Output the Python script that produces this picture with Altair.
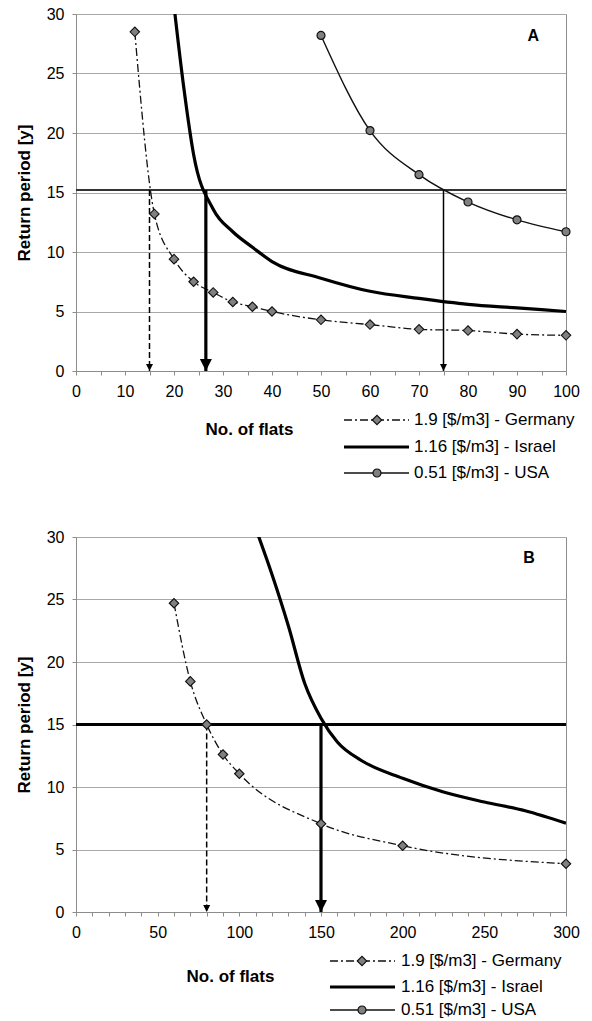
import altair as alt
import pandas as pd

# ---------------- data ----------------
# Panel A
germany_a_x = [12, 16, 20, 24, 28, 32, 36, 40, 50, 60, 70, 80, 90, 100]
germany_a_y = [28.5, 13.2, 9.4, 7.5, 6.6, 5.8, 5.4, 5.0, 4.3, 3.9, 3.5, 3.4, 3.1, 3.0]
israel_a_x = [20, 22, 24, 28, 32, 36, 40, 50, 60, 70, 80, 90, 100]
israel_a_y = [30.7, 23.8, 18.2, 13.6, 11.7, 10.4, 9.2, 7.8, 6.7, 6.1, 5.6, 5.3, 5.0]
usa_a_x = [50, 60, 70, 80, 90, 100]
usa_a_y = [28.2, 20.2, 16.5, 14.2, 12.7, 11.7]
threshold_a = [15.2]
arrows_a_x = [15, 26.5, 75]          # dashed, thick, thin
x_ticks_a = [0, 5, 10, 15, 20, 25, 30, 35, 40, 45, 50, 55, 60, 65, 70, 75, 80, 85, 90, 95, 100]

# Panel B
germany_b_x = [60, 70, 80, 90, 100, 150, 200, 300]
germany_b_y = [24.7, 18.45, 15.0, 12.6, 11.06, 7.06, 5.3, 3.86]
israel_b_x = [110, 120, 130, 140, 150, 160, 175, 200, 225, 250, 275, 300]
israel_b_y = [30.7, 27.0, 22.9, 18.3, 15.5, 13.6, 12.1, 10.7, 9.6, 8.8, 8.1, 7.1]
threshold_b = [15]
arrows_b_x = [80, 150]               # dashed, thick
x_ticks_b = [0, 10, 20, 30, 40, 50, 60, 70, 80, 90, 100, 110, 120, 130, 140, 150,
             160, 170, 180, 190, 200, 210, 220, 230, 240, 250, 260, 270, 280, 290, 300]

y_ticks = [0, 5, 10, 15, 20, 25, 30]
legend_labels = ["1.9 [$/m3] - Germany", "1.16 [$/m3] - Israel", "0.51 [$/m3] - USA"]
panel_tags = ["A", "B"]

# ---------------- styling ----------------
FONT = "Liberation Sans"
INK = "#111111"
MFILL = "#808080"
GRID = "#a8a8a8"
AXIS = "#8c8c8c"
DASHDOT = [8, 3, 2, 3]
ARROW = "M-1,-2L1,-2L0,0Z"
W = 490


def df(xs, ys):
    return pd.DataFrame({"x": xs, "y": ys})


def panel(xmax, ticks, label_every, height, series, threshold, thr_style,
          arrows, tag, tag_xy, xtitle_xy, leg):
    xs = alt.Scale(domain=[0, xmax], nice=False, zero=True)
    ys = alt.Scale(domain=[0, 30], nice=False)
    xaxis = alt.Axis(values=ticks,
                     labelExpr=f"datum.value % {label_every} == 0 ? datum.label : ''",
                     grid=False, title="No. of flats", titleX=xtitle_xy[0],
                     titleY=xtitle_xy[1], titleAlign="center", titleBaseline="middle",
                     labelPadding=8, tickSize=4, labelFlush=False, labelOverlap=False)
    yaxis = alt.Axis(values=y_ticks, grid=True, title="Return period [y]",
                     titleX=-52, titleBaseline="middle", titleAngle=-90,
                     labelPadding=8, tickSize=4, labelFlush=False, labelOverlap=False)
    X = alt.X("x:Q", scale=xs, axis=xaxis)
    Y = alt.Y("y:Q", scale=ys, axis=yaxis)

    layers = []
    # threshold line
    layers.append(alt.Chart(pd.DataFrame({"y": threshold})).mark_rule(
        color=thr_style[0], strokeWidth=thr_style[1]).encode(y=Y))

    g, i, u = series
    layers.append(alt.Chart(df(*i)).mark_line(
        interpolate="monotone", color="#000", strokeWidth=3.2, clip=True).encode(x=X, y=Y))
    layers.append(alt.Chart(df(*g)).mark_line(
        interpolate="monotone", color=INK, strokeWidth=1.3, strokeDash=DASHDOT,
        clip=True).encode(x=X, y=Y))
    if u is not None:
        layers.append(alt.Chart(df(*u)).mark_line(
            interpolate="monotone", color=INK, strokeWidth=1.4, clip=True).encode(x=X, y=Y))

    # arrows
    styles = [("dash", 1.5, 49), ("thick", 3.2, 144), ("thin", 1.5, 49)]
    for ax, (kind, sw, hs) in zip(arrows, styles):
        a = pd.DataFrame({"x": [ax], "y": threshold, "y2": [0]})
        kw = dict(color="#000", strokeWidth=sw)
        if kind == "dash":
            kw["strokeDash"] = [6, 3]
        layers.append(alt.Chart(a).mark_rule(**kw).encode(
            x=X, y=Y, y2=alt.Y2("y2:Q")))
        layers.append(alt.Chart(pd.DataFrame({"x": [ax], "y": [0]})).mark_point(
            shape=ARROW, filled=True, color="#000", size=hs, opacity=1).encode(x=X, y=Y))

    # markers
    layers.append(alt.Chart(df(*g)).mark_point(
        shape="diamond", filled=True, fill=MFILL, stroke=INK, strokeWidth=1.1,
        size=90, opacity=1).encode(x=X, y=Y))
    if u is not None:
        layers.append(alt.Chart(df(*u)).mark_point(
            shape="circle", filled=True, fill=MFILL, stroke=INK, strokeWidth=1.2,
            size=64, opacity=1).encode(x=X, y=Y))

    # panel tag
    layers.append(alt.Chart(pd.DataFrame({"x": [tag_xy[0]], "y": [tag_xy[1]], "t": [tag]}))
                  .mark_text(font=FONT, fontSize=16, fontWeight="bold", color="#000")
                  .encode(x=X, y=Y, text="t:N"))

    # legend (drawn below the plot, in pixel space)
    x0, x1, xm, xt, rows = leg
    one = pd.DataFrame({"k": [0]})
    layers.append(alt.Chart(one).mark_rule(color=INK, strokeWidth=1.3, strokeDash=DASHDOT)
                  .encode(x=alt.value(x0), x2=alt.value(x1), y=alt.value(rows[0])))
    layers.append(alt.Chart(one).mark_point(shape="diamond", filled=True, fill=MFILL,
                                            stroke=INK, strokeWidth=1.1, size=90, opacity=1)
                  .encode(x=alt.value(xm), y=alt.value(rows[0])))
    layers.append(alt.Chart(one).mark_rule(color="#000", strokeWidth=3.2)
                  .encode(x=alt.value(x0), x2=alt.value(x1), y=alt.value(rows[1])))
    layers.append(alt.Chart(one).mark_rule(color=INK, strokeWidth=1.4)
                  .encode(x=alt.value(x0), x2=alt.value(x1), y=alt.value(rows[2])))
    layers.append(alt.Chart(one).mark_point(shape="circle", filled=True, fill=MFILL,
                                            stroke=INK, strokeWidth=1.2, size=64, opacity=1)
                  .encode(x=alt.value(xm), y=alt.value(rows[2])))
    for lab, ry in zip(legend_labels, rows):
        layers.append(alt.Chart(one).mark_text(align="left", baseline="middle", font=FONT,
                                               fontSize=17, color="#000")
                      .encode(x=alt.value(xt), y=alt.value(ry), text=alt.value(lab)))

    return alt.layer(*layers).properties(width=W, height=height)


chart_a = panel(100, x_ticks_a, 10, 357,
                ((germany_a_x, germany_a_y), (israel_a_x, israel_a_y), (usa_a_x, usa_a_y)),
                threshold_a, ("#333333", 2), arrows_a_x, panel_tags[0], (93.3, 28.15),
                (173, 58), (268, 333, 301, 338, [406, 433, 459]))

chart_b = panel(300, x_ticks_b, 50, 375,
                ((germany_b_x, germany_b_y), (israel_b_x, israel_b_y), None),
                threshold_b, ("#000000", 3), arrows_b_x, panel_tags[1], (277.4, 28.3),
                (154, 64), (254, 319, 286, 325, [424, 450, 473]))

chart = alt.vconcat(chart_a, chart_b, spacing=166, bounds="flush").properties(
    padding={"left": 14, "top": 5, "right": 0, "bottom": 0}
).configure_axis(
    labelFont=FONT, labelFontSize=16, labelColor="#000",
    titleFont=FONT, titleFontSize=17, titleFontWeight="bold", titleColor="#000",
    domainColor=AXIS, tickColor=AXIS, gridColor=GRID, gridWidth=1
).configure_view(stroke=AXIS)

chart.save("out.html", embed_options={"renderer": "svg", "actions": False})
